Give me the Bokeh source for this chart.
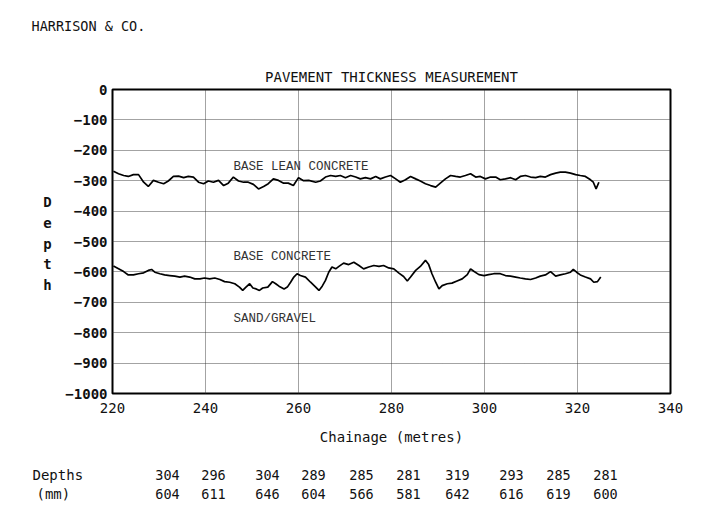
from bokeh.plotting import figure
from bokeh.models import Range1d, FixedTicker, Label
from bokeh.layouts import column, row
from bokeh.core.properties import value
from bokeh.embed import file_html
from bokeh.resources import INLINE

# ---------------- data ----------------
lean_ch = [220.2, 221.3, 222.4, 223.4, 224.5, 225.6, 226.7, 227.7, 228.8, 229.9,
           231.0, 232.0, 233.1, 234.2, 235.3, 236.3, 237.4, 238.5, 239.6, 240.6,
           241.7, 242.8, 243.9, 244.9, 246.0, 247.1, 248.2, 249.2, 250.3, 251.4,
           252.5, 253.5, 254.6, 255.7, 256.8, 257.8, 258.9, 260.0, 261.1, 262.2,
           263.7, 264.7, 265.8, 266.9, 268.0, 269.0, 270.1, 271.2, 272.3, 273.3,
           274.4, 275.5, 276.6, 277.6, 278.7, 279.8, 280.9, 281.9, 283.0, 284.1,
           285.2, 286.2, 287.3, 288.4, 289.5, 290.5, 291.6, 292.7, 293.8, 294.8,
           295.9, 297.0, 298.1, 299.1, 300.2, 301.3, 302.4, 303.4, 304.5, 305.6,
           306.7, 307.7, 308.8, 309.9, 311.0, 312.0, 313.1, 314.2, 315.3, 316.3,
           317.4, 318.5, 319.6, 320.6, 321.7, 322.8, 323.4, 324.0, 324.6]
lean_depth = [-269, -277, -283, -286, -280, -280, -305, -319, -299, -305,
              -310, -301, -286, -285, -290, -286, -288, -305, -310, -301,
              -305, -299, -316, -308, -288, -301, -305, -305, -312, -327,
              -319, -310, -294, -299, -308, -308, -316, -290, -300, -299,
              -305, -301, -288, -283, -286, -283, -290, -283, -288, -294,
              -290, -294, -286, -294, -288, -283, -294, -305, -297, -286,
              -294, -301, -310, -316, -321, -308, -294, -283, -286, -288,
              -283, -277, -288, -286, -294, -288, -288, -297, -294, -290,
              -297, -286, -283, -288, -290, -286, -288, -280, -275, -272,
              -272, -275, -280, -283, -286, -297, -305, -327, -305]

base_ch = [220.2, 221.3, 222.4, 223.4, 224.5, 225.6, 226.7, 227.7, 228.4, 229.1,
           230.2, 231.2, 232.3, 233.4, 234.5, 235.5, 236.6, 237.7, 238.8, 239.8,
           240.9, 242.0, 243.1, 244.1, 245.2, 246.3, 247.3, 248.0, 248.7, 249.5,
           250.2, 250.9, 251.6, 252.3, 253.4, 254.4, 255.1, 255.8, 256.9, 257.6,
           258.3, 259.0, 259.7, 260.4, 261.5, 262.6, 263.7, 264.4, 265.1, 265.8,
           266.5, 267.2, 268.0, 268.7, 269.7, 270.8, 271.9, 273.0, 274.0, 275.1,
           276.2, 277.3, 278.3, 279.4, 280.5, 281.6, 282.6, 283.4, 284.1, 285.2,
           286.2, 287.3, 288.0, 288.7, 289.5, 290.2, 290.9, 292.0, 293.0, 294.1,
           295.2, 296.3, 297.0, 297.7, 298.8, 299.9, 300.9, 302.0, 303.4, 304.5,
           305.6, 306.7, 307.7, 308.8, 309.9, 311.0, 312.0, 313.1, 314.2, 315.3,
           316.3, 317.4, 318.5, 319.1, 319.8, 320.6, 321.7, 322.8, 323.5, 324.3,
           325.0]
base_depth = [-581, -590, -599, -610, -610, -606, -603, -595, -592, -601,
              -606, -610, -612, -614, -617, -614, -617, -623, -623, -620,
              -623, -620, -625, -632, -634, -639, -650, -661, -650, -639,
              -653, -656, -661, -653, -650, -632, -639, -647, -656, -650,
              -634, -617, -606, -612, -617, -634, -650, -661, -647, -628,
              -601, -584, -590, -582, -571, -576, -568, -579, -590, -584,
              -579, -582, -579, -587, -590, -604, -615, -630, -617, -595,
              -582, -562, -576, -606, -634, -656, -645, -639, -637, -630,
              -623, -609, -590, -598, -609, -612, -609, -606, -606, -612,
              -614, -617, -620, -623, -625, -620, -614, -610, -599, -614,
              -610, -606, -601, -592, -601, -610, -617, -623, -634, -632,
              -617]

x_ticks = [220, 240, 260, 280, 300, 320, 340]
y_ticks = [0, -100, -200, -300, -400, -500, -600, -700, -800, -900, -1000]

table_lean = ["304", "296", "304", "289", "285", "281", "319", "293", "285", "281"]
table_base = ["604", "611", "646", "604", "566", "581", "642", "616", "619", "600"]

# ---------------- layout (page pixels) ----------------
MONO = "DejaVu Sans Mono"
TOTAL_W = 712
TOP_H = 45           # top text strip: y 0..45
MID_H = 375          # chart row: y 45..420
BOT_H = 86           # bottom text strip: y 420..506
LEFT_W = 60          # strip holding the stacked y-axis title
FL, FT, FR, FB = 112, 89, 670, 393   # frame edges on the page
X0, X1, Y0, Y1 = 220, 340, -1000, 0


def text_strip(width, height, x0, x1, y_top, y_bottom):
    """Text-only figure; data coords == page pixels over its frame."""
    f = figure(width=width, height=height, output_backend="svg", toolbar_location=None,
               x_range=Range1d(x0, x1), y_range=Range1d(y_bottom, y_top),
               x_axis_type=None, y_axis_type=None, min_border=0)
    f.outline_line_color = None
    f.background_fill_color = "white"
    f.border_fill_color = "white"
    f.grid.visible = False
    return f


def put(f, texts, xs, ys, size="14px", align="left", font=MONO, style="normal", color="#111111"):
    f.text(x=xs, y=ys, text=texts, text_font=value(font), text_font_size=size,
           text_align=align, text_baseline="middle", text_color=color,
           text_font_style=style)


# top strip
top = text_strip(TOTAL_W, TOP_H, 0, TOTAL_W, 0, TOP_H)
put(top, ["HARRISON & CO."], [31], [25], size="13.5px")

# left strip: stacked axis title (its frame is aligned with the chart frame by the row)
left = text_strip(LEFT_W, MID_H, 0, LEFT_W, FT, FB)
put(left, list("Depth"), [47] * 5, [201, 222, 243, 263, 284], align="center", style="bold")

# main chart
MAIN_W = TOTAL_W - LEFT_W
p = figure(width=MAIN_W, height=MID_H, output_backend="svg", toolbar_location=None,
           x_range=Range1d(X0, X1), y_range=Range1d(Y0, Y1),
           title="PAVEMENT THICKNESS MEASUREMENT",
           min_border_left=FL - LEFT_W, min_border_right=TOTAL_W - FR,
           min_border_top=FT - TOP_H, min_border_bottom=TOP_H + MID_H - FB)
p.background_fill_color = "white"
p.border_fill_color = "white"
p.outline_line_color = "black"
p.outline_line_width = 2

p.title.align = "center"
p.title.text_font = MONO
p.title.text_font_size = "14px"
p.title.text_font_style = "normal"
p.title.text_color = "#111111"
p.title.standoff = 9

for ax in (p.xaxis[0], p.yaxis[0]):
    ax.axis_line_color = None
    ax.major_tick_line_color = None
    ax.minor_tick_line_color = None
    ax.major_tick_out = 0
    ax.major_tick_in = 0
    ax.minor_tick_out = 0
    ax.minor_tick_in = 0
    ax.major_label_text_font = MONO
    ax.major_label_text_font_size = "14px"
    ax.major_label_text_color = "#111111"
p.xaxis.ticker = FixedTicker(ticks=x_ticks)
p.yaxis.ticker = FixedTicker(ticks=y_ticks)
p.xaxis.major_label_standoff = 9
p.yaxis.major_label_standoff = 5
p.yaxis.major_label_text_font_style = "bold"

for g in (p.xgrid[0], p.ygrid[0]):
    g.grid_line_color = "#333333"
    g.grid_line_dash = "1 1"
    g.grid_line_width = 1
    g.grid_line_alpha = 0.9
p.xgrid.ticker = FixedTicker(ticks=x_ticks)
p.ygrid.ticker = FixedTicker(ticks=y_ticks)

p.line(lean_ch, lean_depth, line_color="black", line_width=1.7)
p.line(base_ch, base_depth, line_color="black", line_width=1.7)


def inner(text, px, py):
    p.add_layout(Label(x=px - FL, y=FB - py, x_units="screen", y_units="screen",
                       text=text, text_font="Liberation Mono", text_font_size="12.5px",
                       text_align="left", text_baseline="middle", text_color="#333333"))


inner("BASE LEAN CONCRETE", 233, 166)
inner("BASE CONCRETE", 233, 256)
inner("SAND/GRAVEL", 233, 318)

# bottom strip: axis title and depth table
bot = text_strip(TOTAL_W, BOT_H, 0, TOTAL_W, TOP_H + MID_H, TOP_H + MID_H + BOT_H)
put(bot, ["Chainage (metres)"], [391], [436], align="center")
put(bot, ["Depths", "(mm)"], [32, 36], [474, 493])
col_px = [167, 213, 267, 313, 361, 408, 457, 511, 558, 605]
put(bot, table_lean, col_px, [474] * len(col_px), align="center", size="13.5px")
put(bot, table_base, col_px, [493] * len(col_px), align="center", size="13.5px")

page = column(top, row(left, p), bot)
open("out.html", "w").write(file_html(page, INLINE))
